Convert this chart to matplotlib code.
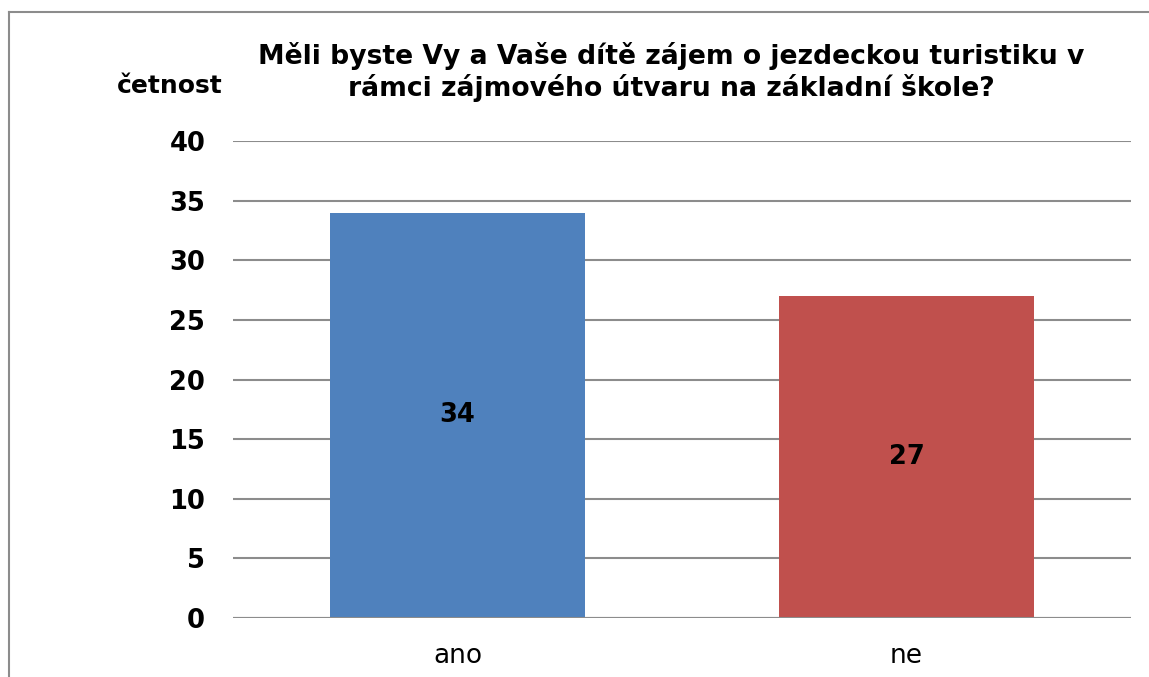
import matplotlib
matplotlib.use("Agg")
import matplotlib.pyplot as plt
from matplotlib.lines import Line2D

categories = ["ano", "ne"]
values = [34, 27]
colors = ["#4F81BD", "#C0504D"]
yticks = [0, 5, 10, 15, 20, 25, 30, 35, 40]
title = "Měli byste Vy a Vaše dítě zájem o jezdeckou turistiku v\nrámci zájmového útvaru na základní škole?"
ylabel = "četnost"

plt.rcParams['font.family'] = ['DejaVu Sans']

W, H = 1149, 677
fig = plt.figure(figsize=(W / 100, H / 100), dpi=100)
ax = fig.add_axes([233 / W, 1 - 618 / H, (1131 - 233) / W, (618 - 141) / H])

x = list(range(len(categories)))
bars = ax.bar(x, values, width=0.57, color=colors, zorder=2)
ax.set_xlim(-0.5, len(categories) - 0.5)
ax.set_ylim(0, 40)
ax.set_yticks(yticks)
ax.set_yticklabels([str(t) for t in yticks], fontsize=18.5, fontweight='bold')
ax.set_xticks(x)
ax.set_xticklabels(categories, fontsize=19)
ax.tick_params(axis='y', length=0, pad=20)
ax.tick_params(axis='x', length=0, pad=18)
ax.yaxis.grid(True, color='#8c8c8c', linewidth=1.5, zorder=0)
for s in ax.spines.values():
    s.set_visible(False)
ax.axhline(0, color='#8c8c8c', linewidth=1.5, zorder=3)

for xi, v in zip(x, values):
    ax.text(xi, v / 2, str(v), ha='center', va='center', fontsize=18.5, fontweight='bold', zorder=4)

fig.text(671 / W, 1 - 72 / H, title, ha='center', va='center', fontsize=19.2,
         fontweight='bold', linespacing=1.22)
fig.text(170 / W, 1 - 93 / H, ylabel, ha='center', va='baseline', fontsize=18, fontweight='bold')

# outer border (top and left)
fig.add_artist(Line2D([8.5 / W, 8.5 / W], [0, 1 - 11.5 / H], transform=fig.transFigure,
                      color='#8c8c8c', linewidth=1.5))
fig.add_artist(Line2D([8.5 / W, 1], [1 - 11.5 / H, 1 - 11.5 / H], transform=fig.transFigure,
                      color='#8c8c8c', linewidth=1.5))

fig.savefig("out.png", dpi=100)
